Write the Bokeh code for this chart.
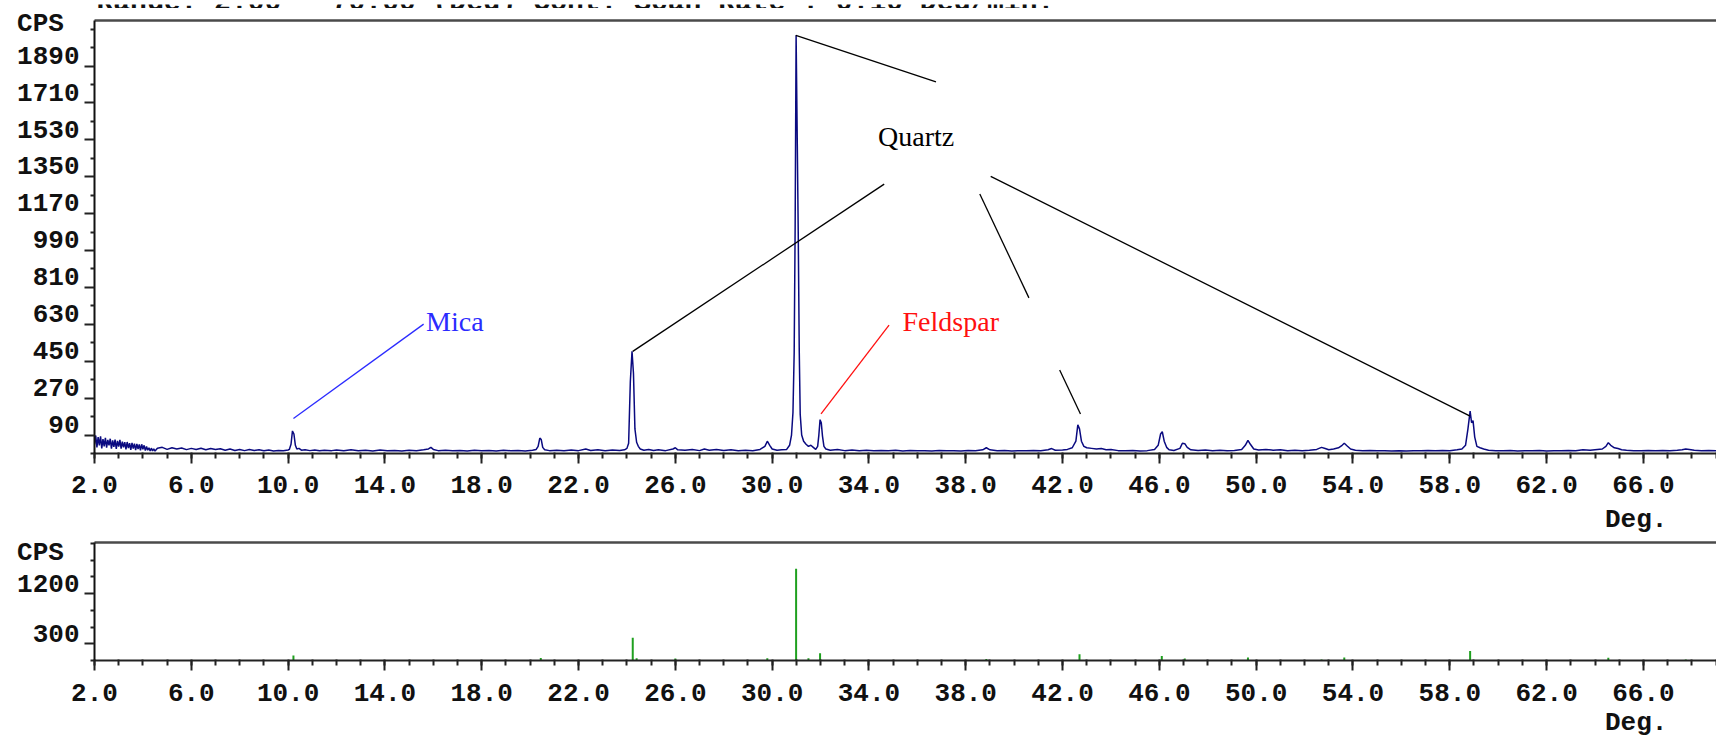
from bokeh.plotting import figure
from bokeh.models import (Range1d, FixedTicker, NumeralTickFormatter, LinearAxis, Label,
                          CustomJSTickFormatter)
from bokeh.layouts import column
from bokeh.embed import file_html
from bokeh.resources import INLINE

# ---------------- data ----------------
two_theta = [
    2.00, 2.05, 2.10, 2.15, 2.20, 2.25, 2.30, 2.35, 2.40, 2.45, 2.50, 2.55, 2.60, 2.65, 2.70,
    2.75, 2.80, 2.85, 2.90, 2.95, 3.00, 3.05, 3.10, 3.15, 3.20, 3.25, 3.30, 3.35, 3.40, 3.45,
    3.50, 3.55, 3.60, 3.65, 3.70, 3.75, 3.80, 3.85, 3.90, 3.95, 4.00, 4.05, 4.10, 4.15, 4.20,
    4.25, 4.30, 4.35, 4.40, 4.45, 4.50,
    4.6, 4.8, 5.0, 5.2, 5.4, 5.6, 5.8, 6.0, 6.2, 6.4, 6.6, 6.8, 7.0, 7.2, 7.4, 7.6, 7.8, 8.0,
    8.2, 8.4, 8.6, 8.8, 9.0, 9.2, 9.4, 9.6, 9.8, 10.0,
    10.05, 10.12, 10.18, 10.24, 10.30, 10.36, 10.45, 10.55,
    10.7, 10.9, 11.1, 11.3, 11.5, 11.8, 12.0, 12.3, 12.6, 12.9, 13.2, 13.5, 13.8, 14.1, 14.4,
    14.7, 15.0, 15.3, 15.6, 15.8, 15.9, 16.0, 16.2, 16.5, 16.8, 17.1, 17.4, 17.7, 18.0, 18.3,
    18.6, 18.9, 19.2, 19.5, 19.8, 20.1, 20.25,
    20.33, 20.40, 20.46, 20.52, 20.60, 20.8, 21.1, 21.4, 21.7, 22.0, 22.3, 22.5, 22.8, 23.1,
    23.4, 23.7, 23.9,
    24.00, 24.07, 24.14, 24.21, 24.27, 24.33, 24.40, 24.47, 24.55, 24.7, 24.9, 25.1, 25.3,
    25.6, 25.9, 26.0, 26.1, 26.4, 26.7, 27.0, 27.2, 27.4, 27.7, 28.0, 28.3, 28.6, 28.9, 29.2,
    29.5, 29.7, 29.8, 29.9, 30.0, 30.2, 30.4, 30.6,
    30.72, 30.80, 30.86, 30.91, 30.95, 30.99, 31.04, 31.08, 31.12, 31.16, 31.22, 31.30, 31.40,
    31.50, 31.60, 31.70, 31.80, 31.88, 31.93, 31.98, 32.03, 32.08, 32.14, 32.22, 32.4, 32.7,
    33.0, 33.3, 33.6, 33.9, 34.2, 34.5, 34.8, 35.1, 35.4, 35.7, 36.0, 36.3, 36.6, 36.9, 37.2,
    37.5, 37.8, 38.1, 38.4, 38.7, 38.85, 39.0, 39.3, 39.6, 39.9, 40.2, 40.5, 40.8, 41.1, 41.4,
    41.55, 41.7, 42.0, 42.2, 42.4, 42.55, 42.63, 42.70, 42.78, 42.88, 43.0, 43.2, 43.4, 43.6,
    43.8, 44.0, 44.3, 44.6, 44.9, 45.2, 45.5, 45.8, 45.95, 46.05, 46.12, 46.2, 46.3, 46.4,
    46.6, 46.85, 46.95, 47.05, 47.15, 47.3, 47.6, 47.9, 48.2, 48.5, 48.8, 49.1, 49.4, 49.55,
    49.66, 49.76, 49.9, 50.1, 50.4, 50.7, 51.0, 51.3, 51.6, 51.9, 52.2, 52.5, 52.7, 52.85,
    53.0, 53.2, 53.4, 53.55, 53.64, 53.75, 53.9, 54.1, 54.4, 54.7, 55.0, 55.3, 55.6, 55.9,
    56.2, 56.5, 56.8, 57.1, 57.4, 57.7, 58.0, 58.3, 58.5, 58.65, 58.75, 58.84, 58.90, 58.96,
    59.03, 59.12, 59.25, 59.4, 59.6, 59.9, 60.2, 60.5, 60.8, 61.1, 61.4, 61.7, 62.0, 62.3,
    62.6, 62.9, 63.2, 63.5, 63.8, 64.1, 64.3, 64.45, 64.55, 64.65, 64.8, 64.95, 65.1, 65.3,
    65.6, 65.9, 66.2, 66.5, 66.8, 67.1, 67.4, 67.6, 67.75, 67.9, 68.1, 68.4, 68.7, 69.0,
    69.3, 69.6, 70.0,
]
cps = [
    45, 88, 30, 80, 40, 84, 25, 70, 35, 76, 28, 66, 40, 72, 24,
    64, 32, 68, 22, 62, 34, 66, 24, 58, 30, 55, 20, 56, 26, 50,
    18, 52, 24, 48, 16, 47, 22, 44, 15, 45, 20, 40, 14, 34, 16,
    28, 12, 26, 13, 22, 12,
    26, 30, 20, 28, 22, 27, 19, 25, 20, 26, 18, 24, 19, 23, 16, 22, 15, 20,
    14, 19, 15, 18, 13, 17, 12, 15, 13, 17,
    20, 45, 110, 95, 40, 22, 25, 16,
    18, 14, 17, 13, 16, 14, 17, 13, 18, 14, 16, 12, 17, 13, 15,
    12, 16, 14, 18, 22, 30, 20, 14, 16, 13, 15, 12, 16, 13, 15,
    12, 16, 13, 15, 12, 16, 20,
    35, 75, 68, 30, 18, 14, 16, 13, 17, 14, 22, 15, 18, 14,
    17, 15, 18,
    25, 50, 350, 499, 390, 120, 55, 35, 22, 16, 20, 15, 18,
    14, 22, 28, 18, 16, 19, 14, 22, 16, 20, 15, 18, 14, 16, 13,
    20, 35, 60, 40, 22, 16, 18, 20,
    40, 90, 200, 490, 1100, 2040, 1500, 1050, 500, 190, 90, 60, 45,
    35, 40, 30, 20, 35, 90, 165, 150, 85, 35, 22, 16, 19,
    14, 17, 13, 16, 14, 15, 13, 16, 12, 15, 13, 14, 12, 15, 13,
    14, 12, 15, 13, 18, 28, 18, 13, 15, 12, 14, 13, 15, 14, 18,
    24, 16, 17, 20, 28, 60, 140, 120, 60, 35, 28, 25, 22, 24,
    18, 20, 14, 13, 15, 12, 14, 20, 40, 95, 106, 60, 30, 18,
    15, 25, 50, 48, 30, 18, 15, 17, 14, 16, 13, 15, 20, 40,
    64, 45, 22, 17, 20, 16, 18, 14, 16, 13, 16, 20, 30, 24,
    18, 22, 28, 40, 50, 38, 22, 16, 14, 15, 13, 14, 12, 14,
    12, 14, 13, 15, 13, 15, 14, 18, 22, 40, 120, 207, 150, 160,
    80, 35, 28, 22, 16, 14, 13, 15, 12, 14, 13, 15, 12, 14,
    13, 15, 14, 18, 16, 20, 22, 35, 53, 40, 28, 24, 18, 16,
    14, 13, 15, 13, 15, 14, 16, 18, 22, 20, 16, 14, 15, 13,
    14, 13, 14,
]

stick_theta = [10.22, 20.44, 24.24, 24.40, 26.0, 29.8, 30.99, 31.5, 31.98, 38.85,
               42.70, 46.10, 47.05, 49.66, 52.7, 53.64, 58.84, 64.55, 67.75]
stick_cps = [90, 45, 410, 40, 35, 40, 1645, 40, 130, 25,
             110, 80, 35, 55, 20, 55, 170, 50, 20]

x_major = [2, 6, 10, 14, 18, 22, 26, 30, 34, 38, 42, 46, 50, 54, 58, 62, 66, 70]
x_minor = list(range(2, 71))
upper_major = [90, 270, 450, 630, 810, 990, 1170, 1350, 1530, 1710, 1890]
upper_minor = [0, 180, 360, 540, 720, 900, 1080, 1260, 1440, 1620, 1800, 1980, 2070]
lower_major = [300, 1200]
lower_minor = [0, 600, 900, 1500, 1800, 2100]
y_unit = "CPS"
x_unit = "Deg."

title_text = "Range: 2.00 - 70.00 (Deg) Cont. Scan Rate : 0.10 Deg/min."

# annotations (data coordinates)
quartz_x0 = [36.77, 34.63, 38.58, 41.88, 39.03]
quartz_y0 = [1813, 1314, 1266, 407, 1352]
quartz_x1 = [30.98, 24.24, 40.61, 42.74, 58.84]
quartz_y1 = [2040, 498, 759, 193, 182]
mica_line = ([15.60], [631], [10.22], [171])
feld_line = ([34.83], [626], [32.02], [193])
ann_text = ["Quartz", "Mica", "Feldspar"]
ann_x = [35.95, 16.89, 37.38]
ann_y = [1546, 645, 645]
ann_color = ["#000000", "#2b2bff", "#ff1010"]

MONO = "Liberation Mono"
SERIF = "Liberation Serif"
NAVY = "#0a0a80"
GREEN = "#1fa01f"
X0, X1 = 2.0, 69.02


def style_common(p, yt, ym, label_pos, label_txt, xstand, degstand):
    p.grid.visible = False
    p.outline_line_color = None
    p.background_fill_color = "white"
    p.border_fill_color = "white"
    xa = p.xaxis[0]
    xa.ticker = FixedTicker(ticks=x_major, minor_ticks=x_minor)
    xa.formatter = NumeralTickFormatter(format="0.0")
    xa.major_label_text_font = MONO
    xa.major_label_text_font_style = "bold"
    xa.major_label_text_font_size = "26px"
    xa.major_label_text_color = "#111111"
    xa.major_label_standoff = xstand
    xa.major_tick_out = 10
    xa.major_tick_in = 0
    xa.minor_tick_out = 5
    xa.minor_tick_in = 1
    xa.axis_line_width = 2
    xa.axis_line_color = "#222222"
    xa.major_tick_line_width = 2
    xa.minor_tick_line_width = 2
    xa.major_tick_line_color = "#222222"
    xa.minor_tick_line_color = "#222222"
    # unit label under the axis ("Deg.")
    deg = LinearAxis(ticker=FixedTicker(ticks=[65.7], minor_ticks=[]),
                     formatter=CustomJSTickFormatter(args=dict(t=x_unit), code="return t;"),
                     major_tick_line_color=None, minor_tick_line_color=None,
                     major_tick_out=0, major_tick_in=0, minor_tick_out=0, minor_tick_in=0,
                     axis_line_color=None, major_label_standoff=degstand,
                     major_label_text_font=MONO, major_label_text_font_style="bold",
                     major_label_text_font_size="26px", major_label_text_color="#111111")
    p.add_layout(deg, "below")
    # tick axis (left)
    ya = p.yaxis[0]
    ya.ticker = FixedTicker(ticks=yt, minor_ticks=ym)
    ya.major_label_text_color = None
    ya.major_label_text_font_size = "1px"
    ya.major_label_standoff = 0
    ya.major_tick_out = 10
    ya.major_tick_in = 0
    ya.minor_tick_out = 4
    ya.minor_tick_in = 0
    ya.axis_line_width = 2
    ya.axis_line_color = "#111111"
    ya.major_tick_line_width = 2
    ya.minor_tick_line_width = 2
    ya.major_tick_line_color = "#222222"
    ya.minor_tick_line_color = "#222222"
    # label axis (left, outside the tick axis): labels sit just above their ticks
    lab = LinearAxis(ticker=FixedTicker(ticks=label_pos, minor_ticks=[]),
                     major_label_overrides=dict(zip(label_pos, label_txt)),
                     major_tick_line_color=None, minor_tick_line_color=None,
                     major_tick_out=0, major_tick_in=0, minor_tick_out=0, minor_tick_in=0,
                     axis_line_color=None, major_label_standoff=5,
                     major_label_text_font=MONO, major_label_text_font_style="bold",
                     major_label_text_font_size="26px", major_label_text_color="#111111")
    p.add_layout(lab, "left")
    # frame top line
    top = LinearAxis(ticker=FixedTicker(ticks=[], minor_ticks=[]),
                     major_label_text_color=None,
                     major_tick_line_color=None, minor_tick_line_color=None,
                     major_tick_out=0, minor_tick_out=0,
                     axis_line_width=2.5, axis_line_color="#4a4a4a")
    p.add_layout(top, "above")


# ---------------- header strip (scan conditions, cut at the top edge) ----------------
# the column aligns this strip's frame with the plots below (frame starts at x = 94 px)
p0 = figure(width=1716, height=8, x_range=Range1d(94, 1716), y_range=Range1d(0, 8),
            output_backend="svg", toolbar_location=None,
            x_axis_location=None, y_axis_location=None,
            min_border_left=0, min_border_right=0, min_border_top=0, min_border_bottom=0)
p0.grid.visible = False
p0.outline_line_color = None
p0.background_fill_color = "white"
p0.border_fill_color = "white"
p0.add_layout(Label(x=96, y=10, text=title_text, text_font=MONO, text_font_style="bold",
                    text_font_size="28px", text_align="left", text_baseline="middle",
                    text_color="#111111"))

# ---------------- upper pattern ----------------
up_lab_pos = [v + 45 for v in upper_major] + [2098]
up_lab_txt = [str(v) for v in upper_major] + [y_unit + "\u00a0"]

p1 = figure(width=1716, height=529, x_range=Range1d(X0, X1), y_range=Range1d(0, 2112),
            output_backend="svg", toolbar_location=None,
            min_border_left=94, min_border_right=0, min_border_top=12, min_border_bottom=84)
style_common(p1, upper_major, upper_minor, up_lab_pos, up_lab_txt, 12, 9)

p1.line(two_theta, cps, line_color=NAVY, line_width=1.5)

p1.segment(x0=quartz_x0, y0=quartz_y0, x1=quartz_x1, y1=quartz_y1,
           line_color="black", line_width=1.3)
p1.segment(x0=mica_line[0], y0=mica_line[1], x1=mica_line[2], y1=mica_line[3],
           line_color=ann_color[1], line_width=1.3)
p1.segment(x0=feld_line[0], y0=feld_line[1], x1=feld_line[2], y1=feld_line[3],
           line_color=ann_color[2], line_width=1.3)
for t, x, y, c in zip(ann_text, ann_x, ann_y, ann_color):
    p1.add_layout(Label(x=x, y=y, text=t, text_font=SERIF, text_font_size="28px",
                        text_align="center", text_baseline="middle", text_color=c))

# ---------------- lower stick pattern ----------------
lo_lab_pos = [457, 1357, 1960]
lo_lab_txt = ["300", "1200", y_unit + "\u00a0"]

p2 = figure(width=1716, height=203, x_range=Range1d(X0, X1), y_range=Range1d(0, 2118),
            output_backend="svg", toolbar_location=None,
            min_border_left=94, min_border_right=0, min_border_top=5, min_border_bottom=77)
style_common(p2, lower_major, lower_minor, lo_lab_pos, lo_lab_txt, 13, 4)
p2.segment(x0=stick_theta, y0=[0] * len(stick_theta), x1=stick_theta, y1=stick_cps,
           line_color=GREEN, line_width=2)

layout = column(p0, p1, p2, spacing=0)
open("out.html", "w").write(file_html(layout, INLINE))
